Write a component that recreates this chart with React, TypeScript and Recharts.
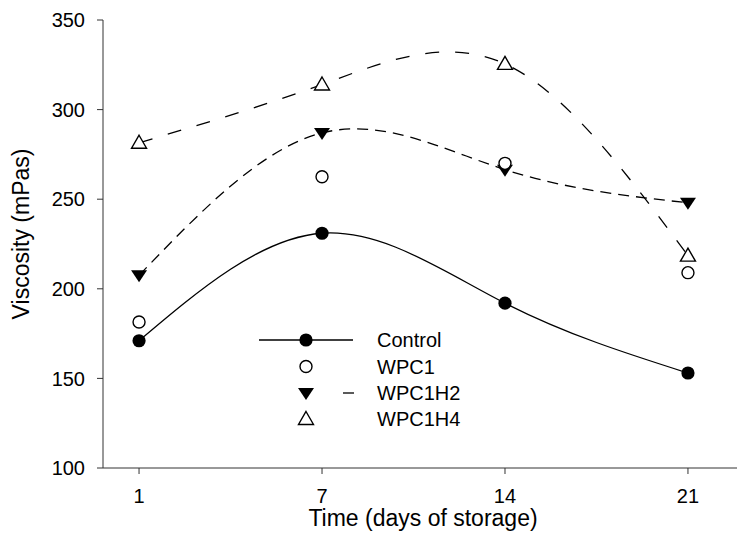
import React from 'react';
import { LineChart, Line, XAxis, YAxis } from 'recharts';

const days = ['1', '7', '14', '21'];
const control = [171, 231, 192, 153];
const wpc1 = [181.5, 262.5, 270, 209];
const wpc1h2 = [207.5, 287, 266.5, 248];
const wpc1h4 = [281.5, 314, 325.5, 218.5];
const yTicks = [100, 150, 200, 250, 300, 350];

const data = days.map((d, i) => ({
  x: i,
  day: d,
  control: control[i],
  wpc1: wpc1[i],
  wpc1h2: wpc1h2[i],
  wpc1h4: wpc1h4[i],
}));

const FONT = '"Liberation Sans", Arial, sans-serif';
const AXIS = '#333';

type Shape = 'filledCircle' | 'openCircle' | 'downTri' | 'upTri';

const marker = (shape: Shape, cx: number, cy: number, key?: string) => {
  if (shape === 'filledCircle') return <circle key={key} cx={cx} cy={cy} r={6.6} fill="#000" />;
  if (shape === 'openCircle')
    return <circle key={key} cx={cx} cy={cy} r={6} fill="#fff" stroke="#000" strokeWidth={1.4} />;
  if (shape === 'downTri')
    return <path key={key} d={`M${cx - 8},${cy - 5} L${cx + 8},${cy - 5} L${cx},${cy + 7} Z`} fill="#000" />;
  return (
    <path
      key={key}
      d={`M${cx},${cy - 7.5} L${cx + 7.5},${cy + 5.5} L${cx - 7.5},${cy + 5.5} Z`}
      fill="#fff"
      stroke="#000"
      strokeWidth={1.4}
    />
  );
};

const dotFor = (shape: Shape, name: string) => (p: any) =>
  marker(shape, p.cx, p.cy, `${name}-${p.index}`);

const legendRows = [
  { label: 'Control', shape: 'filledCircle' as Shape, y: 340 },
  { label: 'WPC1', shape: 'openCircle' as Shape, y: 366.5 },
  { label: 'WPC1H2', shape: 'downTri' as Shape, y: 393 },
  { label: 'WPC1H4', shape: 'upTri' as Shape, y: 419 },
];

const ChartLegend = () => (
  <svg width={737} height={538} style={{ position: 'absolute', left: 0, top: 0, pointerEvents: 'none' }}>
    <line x1={259} x2={353} y1={340} y2={340} stroke="#000" strokeWidth={1.3} />
    <line x1={343} x2={354} y1={393} y2={393} stroke="#000" strokeWidth={1.3} />
    {legendRows.map((r) => (
      <g key={r.label}>
        {marker(r.shape, 306, r.y)}
        <text x={377} y={r.y + 7} fontSize={20} fontFamily={FONT} fill="#000">
          {r.label}
        </text>
      </g>
    ))}
  </svg>
);

export default function App() {
  return (
    <div style={{ position: 'absolute', left: 0, top: 0, width: 737, height: 538, background: '#fff' }}>
      <LineChart width={737} height={538} data={data} margin={{ top: 20, right: 0, bottom: 0, left: 0 }}>
        <XAxis
          dataKey="x"
          type="number"
          domain={[-0.197, 3.268]}
          ticks={[0, 1, 2, 3]}
          tickFormatter={(v) => days[v]}
          allowDataOverflow
          height={70}
          stroke={AXIS}
          tickSize={6}
          tickMargin={15}
          tick={{ fill: '#000', fontSize: 20, fontFamily: FONT }}
          label={{
            content: () => (
              <text x={423} y={526} textAnchor="middle" fontSize={23} fontFamily={FONT} fill="#000">
                Time (days of storage)
              </text>
            ),
          }}
        />
        <YAxis
          type="number"
          domain={[100, 350]}
          ticks={yTicks}
          width={103}
          stroke={AXIS}
          tickSize={6}
          tickMargin={12}
          tick={{ fill: '#000', fontSize: 20, fontFamily: FONT }}
          label={{
            content: () => (
              <text
                x={29}
                y={234}
                transform="rotate(-90 29 234)"
                textAnchor="middle"
                fontSize={23}
                fontFamily={FONT}
                fill="#000"
              >
                Viscosity (mPas)
              </text>
            ),
          }}
        />
        <Line
          dataKey="control"
          type="natural"
          stroke="#000"
          strokeWidth={1.3}
          dot={dotFor('filledCircle', 'control')}
          activeDot={false}
          isAnimationActive={false}
        />
        <Line
          dataKey="wpc1h2"
          type="natural"
          stroke="#000"
          strokeWidth={1.3}
          strokeDasharray="11 7"
          dot={dotFor('downTri', 'wpc1h2')}
          activeDot={false}
          isAnimationActive={false}
        />
        <Line
          dataKey="wpc1h4"
          type="natural"
          stroke="#000"
          strokeWidth={1.3}
          strokeDasharray="14 16"
          dot={dotFor('upTri', 'wpc1h4')}
          activeDot={false}
          isAnimationActive={false}
        />
        <Line
          dataKey="wpc1"
          stroke="none"
          dot={dotFor('openCircle', 'wpc1')}
          activeDot={false}
          isAnimationActive={false}
        />
      </LineChart>
      <ChartLegend />
    </div>
  );
}
